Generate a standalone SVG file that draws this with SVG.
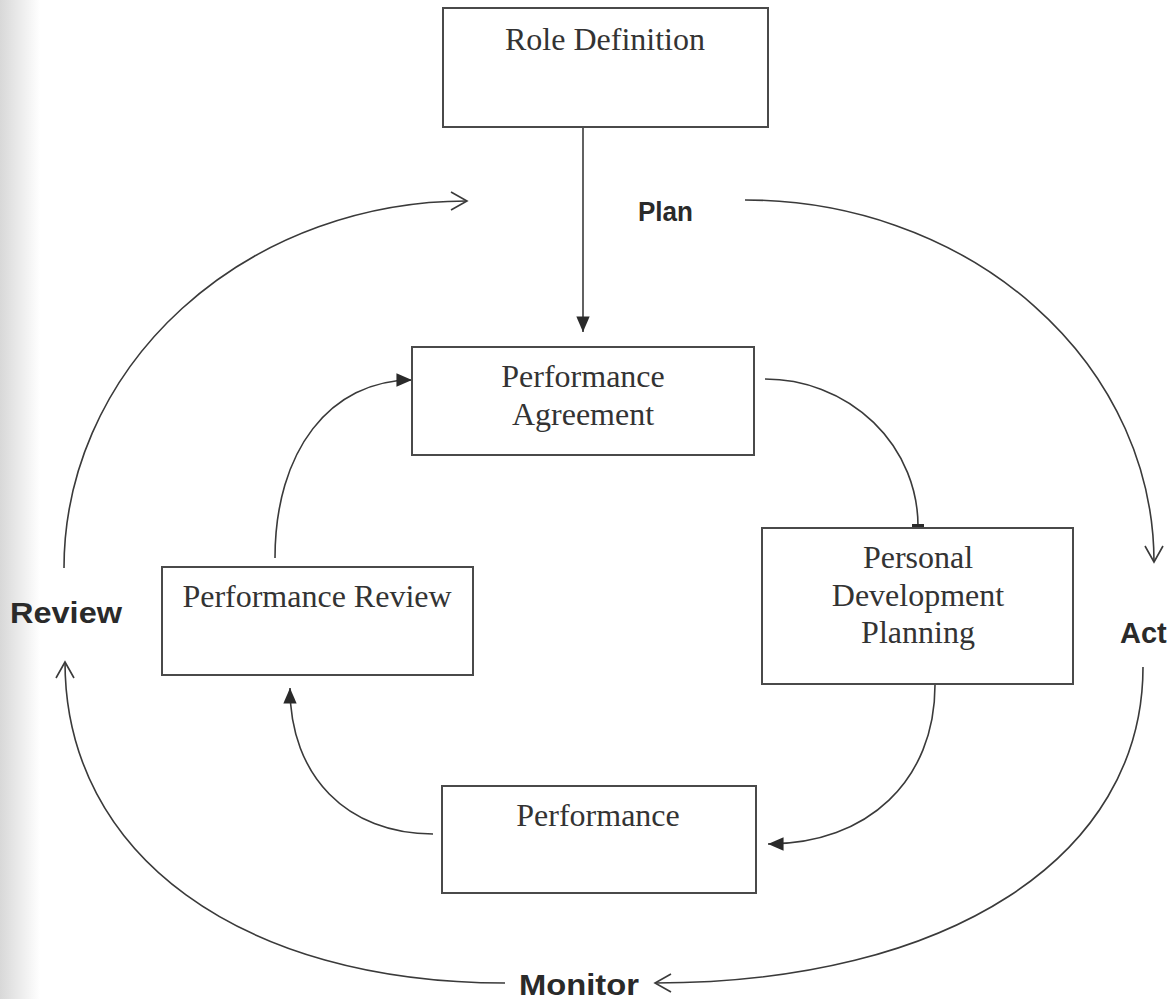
<svg xmlns="http://www.w3.org/2000/svg" width="1170" height="999" viewBox="0 0 1170 999">
  <style>
    .box { fill: #ffffff; stroke: #4a4a4a; stroke-width: 2; }
    .node-text { font-family: "Liberation Serif", "Times New Roman", serif; font-size: 32px; fill: #333333; text-anchor: middle; }
    .label { font-family: "Liberation Sans", Arial, sans-serif; font-weight: bold; fill: #2a2a2a; }
    .conn { fill: none; stroke: #3a3a3a; stroke-width: 1.6; }
  </style>
  <defs>
    <linearGradient id="edge" x1="0" y1="0" x2="1" y2="0">
      <stop offset="0" stop-color="#d8d8d8"/>
      <stop offset="1" stop-color="#ffffff"/>
    </linearGradient>
    <marker id="filled" markerUnits="userSpaceOnUse" markerWidth="20" markerHeight="20" viewBox="-16 -8 18 16" refX="0" refY="0" orient="auto">
      <path d="M0,0 L-14,-6 L-14,6 Z" fill="#2a2a2a"/>
    </marker>
    <marker id="open" markerUnits="userSpaceOnUse" markerWidth="24" markerHeight="24" viewBox="-20 -12 22 24" refX="0" refY="0" orient="auto">
      <path d="M-16,-9 L0,0 L-16,9" fill="none" stroke="#3a3a3a" stroke-width="1.6"/>
    </marker>
    <marker id="bar" markerUnits="userSpaceOnUse" markerWidth="16" markerHeight="16" viewBox="-8 -8 16 16" refX="0" refY="0" orient="auto">
      <rect x="-3" y="-6" width="3" height="12" fill="#2a2a2a"/>
    </marker>
  </defs>

  <rect x="0" y="0" width="1170" height="999" fill="#ffffff"/>
  <rect x="0" y="0" width="40" height="999" fill="url(#edge)"/>

  <g id="connectors">
    <path class="conn" d="M583,128 L583,332" marker-end="url(#filled)"/>
    <path class="conn" d="M765,379 A153,147 0 0 1 918,527" marker-end="url(#bar)"/>
    <path class="conn" d="M935,685 C935,780 868,844 768,844" marker-end="url(#filled)"/>
    <path class="conn" d="M433,834 C347,834 290,776 290,688" marker-end="url(#filled)"/>
    <path class="conn" d="M275,558 C275,451 330,380 412,380" marker-end="url(#filled)"/>
    <path class="conn" d="M64,568 A403,367 0 0 1 467,201" marker-end="url(#open)"/>
    <path class="conn" d="M745,200 A409,362 0 0 1 1154,562" marker-end="url(#open)"/>
    <path class="conn" d="M1143,667 C1143,857 948,983 655,983" marker-end="url(#open)"/>
    <path class="conn" d="M505,983 C241,983 65,855 65,662" marker-end="url(#open)"/>
  </g>

  <g id="role-definition">
    <rect class="box" x="443" y="8" width="325" height="119"/>
    <text class="node-text" x="605" y="50">Role Definition</text>
  </g>

  <g id="performance-agreement">
    <rect class="box" x="412" y="347" width="342" height="108"/>
    <text class="node-text" x="583" y="387">Performance</text>
    <text class="node-text" x="583" y="425">Agreement</text>
  </g>

  <g id="personal-development-planning">
    <rect class="box" x="762" y="528" width="311" height="156"/>
    <text class="node-text" x="918" y="568">Personal</text>
    <text class="node-text" x="918" y="606">Development</text>
    <text class="node-text" x="918" y="643">Planning</text>
  </g>

  <g id="performance-review">
    <rect class="box" x="162" y="567" width="311" height="108"/>
    <text class="node-text" x="317" y="607">Performance Review</text>
  </g>

  <g id="performance">
    <rect class="box" x="442" y="786" width="314" height="107"/>
    <text class="node-text" x="598" y="826">Performance</text>
  </g>

  <g id="labels">
    <text class="label" x="638" y="221" font-size="27" textLength="55" lengthAdjust="spacingAndGlyphs">Plan</text>
    <text class="label" x="1120" y="643" font-size="29">Act</text>
    <text class="label" x="10" y="623" font-size="29" textLength="112" lengthAdjust="spacingAndGlyphs">Review</text>
    <text class="label" x="519" y="995" font-size="30" textLength="120" lengthAdjust="spacingAndGlyphs">Monitor</text>
  </g>
</svg>
